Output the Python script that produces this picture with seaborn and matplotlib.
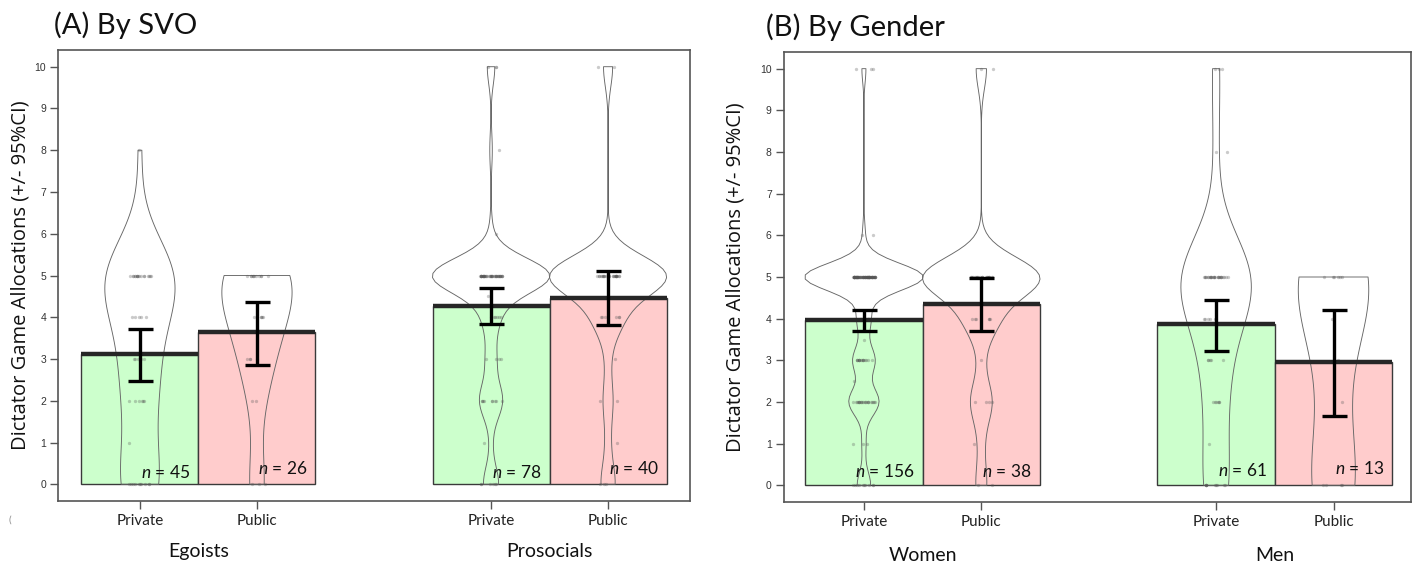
import numpy as np
import pandas as pd
import seaborn as sns
import matplotlib.pyplot as plt
import matplotlib.transforms as mtransforms

sns.set_theme(style="white")
plt.rcParams['font.family'] = ['Lato', 'DejaVu Sans']
plt.rcParams['mathtext.fontset'] = 'custom'
plt.rcParams['mathtext.rm'] = 'Lato'
plt.rcParams['mathtext.it'] = 'Lato:italic'

# ---------------- data ----------------
positions = [0, 1, 3, 4]
conditions = ["Private", "Public", "Private", "Public"]

svo_groups = ["Egoists", "Prosocials"]
svo_means = [3.12, 3.64, 4.27, 4.45]
svo_ci_low = [2.47, 2.85, 3.85, 3.81]
svo_ci_high = [3.72, 4.37, 4.69, 5.10]
svo_n = [45, 26, 78, 40]

gender_groups = ["Women", "Men"]
gender_means = [3.98, 4.35, 3.87, 2.96]
gender_ci_low = [3.71, 3.70, 3.22, 1.67]
gender_ci_high = [4.22, 4.97, 4.46, 4.22]
gender_n = [156, 38, 61, 13]

# individual allocations (value, count) per cell
ego_priv_vals = [0, 1, 2, 3, 4, 5, 8]
ego_priv_cnts = [10, 1, 6, 5, 5, 17, 1]
ego_pub_vals = [0, 2, 3, 4, 5]
ego_pub_cnts = [3, 2, 4, 6, 11]
pro_priv_vals = [0, 1, 2, 3, 4, 4.5, 5, 6, 8, 10]
pro_priv_cnts = [6, 1, 9, 4, 6, 1, 46, 1, 1, 3]
pro_pub_vals = [0, 1, 2, 3, 4, 5, 10]
pro_pub_cnts = [3, 1, 2, 1, 6, 25, 2]

wom_priv_vals = [0, 1, 2, 2.5, 3, 3.5, 4, 5, 6, 10]
wom_priv_cnts = [10, 3, 22, 1, 16, 1, 10, 88, 2, 3]
wom_pub_vals = [0, 1, 2, 3, 4, 5, 10]
wom_pub_cnts = [2, 1, 4, 1, 6, 22, 2]
men_priv_vals = [0, 1, 2, 3, 4, 5, 8, 10]
men_priv_cnts = [10, 1, 6, 5, 6, 28, 2, 3]
men_pub_vals = [0, 2, 3, 4, 5]
men_pub_cnts = [4, 1, 1, 1, 6]

y_ticks = list(range(0, 11))
ylabel = "Dictator Game Allocations (+/- 95%CI)"

palette = {"Private": "#ccffcc", "Public": "#ffcccc"}


def expand(vals, cnts):
    return np.repeat(np.asarray(vals, float), cnts)


def draw_panel(ax, groups, means, lo, hi, ns, cells, vio_widths, vio_bw, n_y,
               label_x, group_y):
    means = np.asarray(means)
    pos = np.asarray(positions, float)
    # bars
    sns.barplot(x=positions, y=means, hue=conditions, palette=palette,
                saturation=1, native_scale=True, dodge=False, width=1.0,
                errorbar=None, edgecolor="#3a3a3a", linewidth=1.0,
                legend=False, ax=ax, zorder=1)
    # violins (one call per group)
    for gi in range(2):
        xs, ys = [], []
        for ci in (2 * gi, 2 * gi + 1):
            v = expand(*cells[ci])
            ys.append(v)
            xs.append(np.full(len(v), positions[ci], float))
        sns.violinplot(x=np.concatenate(xs), y=np.concatenate(ys),
                       native_scale=True, orient="x", fill=False, inner=None,
                       cut=0, density_norm="width", width=vio_widths[gi],
                       bw_adjust=vio_bw[gi], color="#666666", linewidth=0.65,
                       ax=ax, zorder=3)
    # points
    xs, ys = [], []
    for ci in range(4):
        v = expand(*cells[ci])
        ys.append(v)
        xs.append(np.full(len(v), positions[ci], float))
    np.random.seed(3)
    sns.stripplot(x=np.concatenate(xs), y=np.concatenate(ys), native_scale=True,
                  orient="x", jitter=0.1, size=2.4, color="#555555", alpha=0.3,
                  linewidth=0, ax=ax, zorder=4)
    # mean lines and CI
    ax.hlines(means, pos - 0.5, pos + 0.5, color="#262626", lw=3.2, zorder=5)
    ax.errorbar(pos, means, yerr=[means - np.asarray(lo), np.asarray(hi) - means],
                fmt="none", ecolor="black", elinewidth=2.4, capsize=9,
                capthick=2.4, zorder=6)
    # n labels
    for i in range(4):
        ax.text(pos[i] + 0.43, n_y[i], rf"$\mathit{{n}}$ = {ns[i]}",
                ha="right", va="baseline", fontsize=12.5, color="#111111",
                zorder=7)
    # axes styling
    ax.set_ylim(-0.4, 10.4)
    ax.set_yticks(y_ticks)
    ax.set_yticklabels([str(t) for t in y_ticks], fontsize=7.5,
                       family="Liberation Sans", color="#333333")
    ax.set_xticks(positions)
    ax.set_xticklabels(conditions, fontsize=11, color="#222222")
    ax.tick_params(axis="both", direction="out", length=5.5, width=1,
                   color="#555555", left=True, bottom=True)
    ax.tick_params(axis="x", pad=4)
    ax.tick_params(axis="y", pad=3)
    for s in ax.spines.values():
        s.set_visible(True)
        s.set_color("#555555")
        s.set_linewidth(1.2)
    ax.set_xlabel("")
    ax.set_ylabel(ylabel, fontsize=14.5, family="Open Sans", color="#111111")
    ax.yaxis.set_label_coords(label_x, 0.5)
    trans = mtransforms.blended_transform_factory(ax.transData, ax.transAxes)
    for gi, g in enumerate(groups):
        ax.text((positions[2 * gi] + positions[2 * gi + 1]) / 2, group_y, g,
                transform=trans, ha="center", va="center", fontsize=14,
                color="#111111")


fig = plt.figure(figsize=(14.15, 5.65), dpi=100)
axA = fig.add_axes([58 / 1415, 64 / 565, 632 / 1415, 451 / 565])
axB = fig.add_axes([783.5 / 1415, 63 / 565, 627.5 / 1415, 450 / 565])

svo_cells = [(ego_priv_vals, ego_priv_cnts), (ego_pub_vals, ego_pub_cnts),
             (pro_priv_vals, pro_priv_cnts), (pro_pub_vals, pro_pub_cnts)]
gender_cells = [(wom_priv_vals, wom_priv_cnts), (wom_pub_vals, wom_pub_cnts),
                (men_priv_vals, men_priv_cnts), (men_pub_vals, men_pub_cnts)]

draw_panel(axA, svo_groups, svo_means, svo_ci_low, svo_ci_high, svo_n,
           svo_cells, [0.6, 1.0], [1.0, 0.5], [0.16, 0.24, 0.16, 0.24],
           -0.044, -0.111)
draw_panel(axB, gender_groups, gender_means, gender_ci_low, gender_ci_high,
           gender_n, gender_cells, [1.0, 0.6], [0.5, 1.0],
           [0.20, 0.20, 0.23, 0.28], -0.060, -0.118)
axA.set_xlim(-0.70, 4.70)
axB.set_xlim(-0.685, 4.66)

fig.text(54 / 1415, 1 - 25 / 565, "(A) By SVO", fontsize=21, ha="left",
         va="center", color="#111111")
fig.text(766 / 1415, 1 - 27 / 565, "(B) By Gender", fontsize=21, ha="left",
         va="center", color="#111111")
fig.text(10 / 1415, 1 - 520 / 565, "(", fontsize=7, ha="center", va="center",
         color="#888888")

fig.savefig("out.png", dpi=100)
